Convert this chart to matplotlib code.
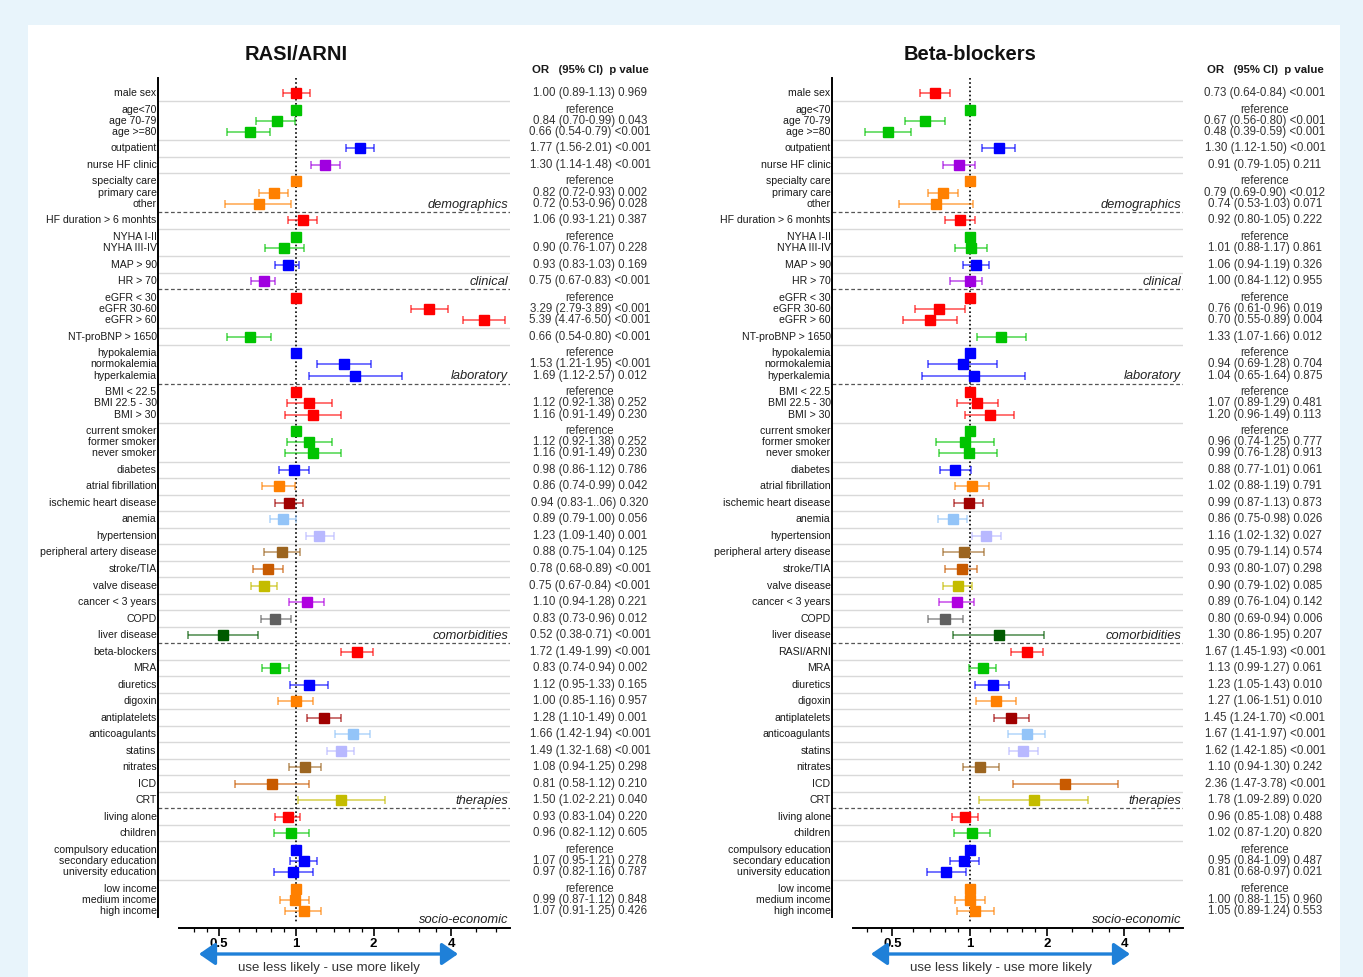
import numpy as np
import matplotlib
matplotlib.use('Agg')
import matplotlib.pyplot as plt
import matplotlib.patches as patches
from matplotlib import transforms
from matplotlib.colors import to_rgba
from matplotlib.ticker import FixedLocator, NullFormatter

plt.rcParams['font.family'] = ['Liberation Sans', 'DejaVu Sans']

W, H = 1363, 977
nan = np.nan

# rows (left panel); right panel swaps "beta-blockers" for "RASI/ARNI"
row_labels = [
    'male sex', 'age<70', 'age 70-79', 'age >=80', 'outpatient', 'nurse HF clinic',
    'specialty care', 'primary care', 'other', 'HF duration > 6 monhts',
    'NYHA I-II', 'NYHA III-IV', 'MAP > 90', 'HR > 70',
    'eGFR < 30', 'eGFR 30-60', 'eGFR > 60', 'NT-proBNP > 1650',
    'hypokalemia', 'normokalemia', 'hyperkalemia',
    'BMI < 22.5', 'BMI 22.5 - 30', 'BMI > 30',
    'current smoker', 'former smoker', 'never smoker',
    'diabetes', 'atrial fibrillation', 'ischemic heart disease', 'anemia',
    'hypertension', 'peripheral artery disease', 'stroke/TIA', 'valve disease',
    'cancer < 3 years', 'COPD', 'liver disease',
    'beta-blockers', 'MRA', 'diuretics', 'digoxin', 'antiplatelets',
    'anticoagulants', 'statins', 'nitrates', 'ICD', 'CRT',
    'living alone', 'children',
    'compulsory education', 'secondary education', 'university education',
    'low income', 'medium income', 'high income']
group_sizes = [1, 3, 1, 1, 3, 1, 2, 1, 1, 3, 1, 3, 3, 3] + [1] * 23 + [3, 3]

red, green, blue, purple, orange = '#ff0000', '#00c400', '#0000ff', '#a000e0', '#ff8000'
darkred, lightblue, lavender, brown = '#a00000', '#93c4f8', '#b8b8ff', '#9c6520'
darkorange, olive, magenta, gray, darkgreen = '#c85a00', '#c4bc00', '#b000e0', '#606060', '#005a00'
group_colors = [red, green, blue, purple, orange, red, green, blue, purple, red,
                green, blue, red, green, blue, orange, darkred, lightblue, lavender,
                brown, darkorange, olive, magenta, gray, darkgreen, red, green, blue,
                orange, darkred, lightblue, lavender, brown, darkorange, olive,
                red, green, blue, orange]

sections = ['demographics', 'clinical', 'laboratory', 'comorbidities', 'therapies', 'socio-economic']
section_last_group = [4, 8, 11, 24, 34, 38]

R = 'reference'
rasi_or = [1.00, 1, 0.84, 0.66, 1.77, 1.30, 1, 0.82, 0.72, 1.06, 1, 0.90, 0.93, 0.75,
           1, 3.29, 5.39, 0.66, 1, 1.53, 1.69, 1, 1.12, 1.16, 1, 1.12, 1.16,
           0.98, 0.86, 0.94, 0.89, 1.23, 0.88, 0.78, 0.75, 1.10, 0.83, 0.52,
           1.72, 0.83, 1.12, 1.00, 1.28, 1.66, 1.49, 1.08, 0.81, 1.50,
           0.93, 0.96, 1, 1.07, 0.97, 1, 0.99, 1.07]
rasi_lo = [0.89, nan, 0.70, 0.54, 1.56, 1.14, nan, 0.72, 0.53, 0.93, nan, 0.76, 0.83, 0.67,
           nan, 2.79, 4.47, 0.54, nan, 1.21, 1.12, nan, 0.92, 0.91, nan, 0.92, 0.91,
           0.86, 0.74, 0.83, 0.79, 1.09, 0.75, 0.68, 0.67, 0.94, 0.73, 0.38,
           1.49, 0.74, 0.95, 0.85, 1.10, 1.42, 1.32, 0.94, 0.58, 1.02,
           0.83, 0.82, nan, 0.95, 0.82, nan, 0.87, 0.91]
rasi_hi = [1.13, nan, 0.99, 0.79, 2.01, 1.48, nan, 0.93, 0.96, 1.21, nan, 1.07, 1.03, 0.83,
           nan, 3.89, 6.50, 0.80, nan, 1.95, 2.57, nan, 1.38, 1.49, nan, 1.38, 1.49,
           1.12, 0.99, 1.06, 1.00, 1.40, 1.04, 0.89, 0.84, 1.28, 0.96, 0.71,
           1.99, 0.94, 1.33, 1.16, 1.49, 1.94, 1.68, 1.25, 1.12, 2.21,
           1.04, 1.12, nan, 1.21, 1.16, nan, 1.12, 1.25]
rasi_p = ['0.969', R, '0.043', '<0.001', '<0.001', '<0.001', R, '0.002', '0.028', '0.387',
          R, '0.228', '0.169', '<0.001', R, '<0.001', '<0.001', '<0.001', R, '<0.001', '0.012',
          R, '0.252', '0.230', R, '0.252', '0.230', '0.786', '0.042', '0.320', '0.056',
          '0.001', '0.125', '<0.001', '<0.001', '0.221', '0.012', '<0.001', '<0.001',
          '0.002', '0.165', '0.957', '0.001', '<0.001', '<0.001', '0.298', '0.210', '0.040',
          '0.220', '0.605', R, '0.278', '0.787', R, '0.848', '0.426']

bb_or = [0.73, 1, 0.67, 0.48, 1.30, 0.91, 1, 0.79, 0.74, 0.92, 1, 1.01, 1.06, 1.00,
         1, 0.76, 0.70, 1.33, 1, 0.94, 1.04, 1, 1.07, 1.20, 1, 0.96, 0.99,
         0.88, 1.02, 0.99, 0.86, 1.16, 0.95, 0.93, 0.90, 0.89, 0.80, 1.30,
         1.67, 1.13, 1.23, 1.27, 1.45, 1.67, 1.62, 1.10, 2.36, 1.78,
         0.96, 1.02, 1, 0.95, 0.81, 1, 1.00, 1.05]
bb_lo = [0.64, nan, 0.56, 0.39, 1.12, 0.79, nan, 0.69, 0.53, 0.80, nan, 0.88, 0.94, 0.84,
         nan, 0.61, 0.55, 1.07, nan, 0.69, 0.65, nan, 0.89, 0.96, nan, 0.74, 0.76,
         0.77, 0.88, 0.87, 0.75, 1.02, 0.79, 0.80, 0.79, 0.76, 0.69, 0.86,
         1.45, 0.99, 1.05, 1.06, 1.24, 1.41, 1.42, 0.94, 1.47, 1.09,
         0.85, 0.87, nan, 0.84, 0.68, nan, 0.88, 0.89]
bb_hi = [0.84, nan, 0.80, 0.59, 1.50, 1.05, nan, 0.90, 1.03, 1.05, nan, 1.17, 1.19, 1.12,
         nan, 0.96, 0.89, 1.66, nan, 1.28, 1.64, nan, 1.29, 1.49, nan, 1.25, 1.28,
         1.01, 1.19, 1.13, 0.98, 1.32, 1.14, 1.07, 1.02, 1.04, 0.94, 1.95,
         1.93, 1.27, 1.43, 1.51, 1.70, 1.97, 1.85, 1.30, 3.78, 2.89,
         1.08, 1.20, nan, 1.09, 0.97, nan, 1.15, 1.24]
bb_p = ['<0.001', R, '<0.001', '<0.001', '<0.001', '0.211', R, '<0.012', '0.071', '0.222',
        R, '0.861', '0.326', '0.955', R, '0.019', '0.004', '0.012', R, '0.704', '0.875',
        R, '0.481', '0.113', R, '0.777', '0.913', '0.061', '0.791', '0.873', '0.026',
        '0.027', '0.574', '0.298', '0.085', '0.142', '0.006', '0.207', '<0.001',
        '0.061', '0.010', '0.010', '<0.001', '<0.001', '<0.001', '0.242', '<0.001', '0.020',
        '0.488', '0.820', R, '0.487', '0.021', R, '0.960', '0.553']

# typo kept as printed in the source table
rasi_text_fix = {29: '0.94 (0.83-1..06) 0.320'}

xticks_major = [0.5, 1, 2, 4]
xticks_minor = [0.4, 0.45, 0.6, 0.7, 0.8, 0.9, 1.2, 1.4, 1.6, 1.8, 2.5, 3, 3.5, 5, 6]


def fx(px):
    return px / W


def fy(py):
    return 1 - py / H


# row positions: 1 unit between groups, 0.68 inside a group
ypos, row_group = [], []
y = 0.0
for g, n in enumerate(group_sizes):
    for k in range(n):
        ypos.append(y + k * 0.68)
        row_group.append(g)
    y = ypos[-1] + 1.0
group_first = [row_group.index(g) for g in range(len(group_sizes))]
U_PX = 16.505
y_top = (78 - 93) / U_PX
y_bot = (928 - 93) / U_PX

fig = plt.figure(figsize=(W / 100, H / 100), dpi=100)
fig.patch.set_facecolor('#e8f4fb')
fig.add_artist(patches.Rectangle((fx(28), 0), fx(1340) - fx(28), fy(25),
                                 transform=fig.transFigure, facecolor='white',
                                 edgecolor='none', zorder=0))


def draw_panel(left_px, width_px, title, labels, orv, lo, hi, pv, text_x, fixes, arrow_x):
    ax = fig.add_axes([fx(left_px), fy(928), width_px / W, 850 / H])
    ax.patch.set_alpha(0)
    ax.set_xscale('log', base=2)
    ax.set_xlim(0.291, 6.78)
    ax.set_ylim(y_bot, y_top)
    for s in ['top', 'right']:
        ax.spines[s].set_visible(False)
    ax.spines['left'].set_linewidth(1.4)
    ax.spines['bottom'].set_linewidth(1.4)
    ax.spines['left'].set_bounds(y_top, (917 - 93) / U_PX)
    ax.spines['bottom'].set_bounds(0.35, 6.78)
    ax.set_yticks([])
    ax.xaxis.set_major_locator(FixedLocator(xticks_major))
    ax.xaxis.set_minor_locator(FixedLocator(xticks_minor))
    ax.xaxis.set_minor_formatter(NullFormatter())
    ax.set_xticklabels(['0.5', '1', '2', '4'], fontsize=9.5, fontweight='bold')
    ax.tick_params(axis='x', which='major', length=6, width=1.2, pad=1.5)
    ax.tick_params(axis='x', which='minor', length=3, width=0.9)

    lab_tr = transforms.blended_transform_factory(ax.transAxes, ax.transData)
    col_tr = transforms.blended_transform_factory(fig.transFigure, ax.transData)

    # separators between groups
    for g in range(len(group_sizes) - 1):
        b = (ypos[group_first[g + 1] - 1] + ypos[group_first[g + 1]]) / 2
        if g in section_last_group:
            ax.axhline(b, color='#555555', ls=(0, (3, 2)), lw=0.9, zorder=1)
            ax.text(0.995, b - 0.08, sections[section_last_group.index(g)], transform=lab_tr,
                    ha='right', va='bottom', fontsize=9.3, style='italic', color='#222222')
        else:
            ax.axhline(b, color='#d9d9d9', lw=1.0, zorder=1)
    ax.text(0.995, y_bot - 0.15, sections[-1], transform=lab_tr, ha='right', va='bottom',
            fontsize=9.3, style='italic', color='#222222')

    ax.plot([1, 1], [y_top, (922 - 93) / U_PX], color='black', ls=(0, (1, 1.5)), lw=1.2, zorder=2)

    for i, lab in enumerate(labels):
        c = group_colors[row_group[i]]
        yy = ypos[i]
        ax.text(-0.004, yy, lab, transform=lab_tr, ha='right', va='center',
                fontsize=7.6, color='#1a1a1a')
        if not np.isnan(lo[i]):
            ax.errorbar(orv[i], yy, xerr=[[orv[i] - lo[i]], [hi[i] - orv[i]]], fmt='none',
                        ecolor=to_rgba(c, 0.7), elinewidth=1.1, capsize=3, capthick=1.1,
                        zorder=3)
            txt = fixes.get(i, f'{orv[i]:.2f} ({lo[i]:.2f}-{hi[i]:.2f}) {pv[i]}')
        else:
            txt = 'reference'
        ax.plot(orv[i], yy, 's', color=c, mec=c, ms=7.6, zorder=4)
        ax.text(fx(text_x), yy, txt, transform=col_tr, ha='center', va='center',
                fontsize=8.3, color='#333333')

    fig.text(fx(text_x), fy(70), 'OR   (95% CI)  p value', ha='center', va='center',
             fontsize=8.2, fontweight='bold', color='#1a1a1a')
    x1 = left_px + width_px * np.log2(1 / 0.291) / np.log2(6.78 / 0.291)
    fig.text(fx(x1), fy(55), title, ha='center', va='center', fontsize=14.5,
             fontweight='bold', color='#111111')

    fig.add_artist(patches.FancyArrowPatch((fx(arrow_x[0]), fy(954)), (fx(arrow_x[1]), fy(954)),
                                           transform=fig.transFigure,
                                           arrowstyle='<|-|>,head_length=0.65,head_width=0.45',
                                           mutation_scale=15, color='#1f80d8', lw=2.4,
                                           shrinkA=0, shrinkB=0))
    fig.text(fx((arrow_x[0] + arrow_x[1]) / 2), fy(968), 'use less likely - use more likely',
             ha='center', va='center', fontsize=9.5, color='#333333')
    return ax


left_labels = row_labels
right_labels = [('RASI/ARNI' if l == 'beta-blockers' else l) for l in row_labels]

draw_panel(158, 352, 'RASI/ARNI', left_labels, rasi_or, rasi_lo, rasi_hi, rasi_p, 590,
           rasi_text_fix, (199, 458))
draw_panel(832, 351, 'Beta-blockers', right_labels, bb_or, bb_lo, bb_hi, bb_p, 1265,
           {}, (871, 1130))

fig.savefig('out.png', dpi=100, facecolor=fig.get_facecolor())
